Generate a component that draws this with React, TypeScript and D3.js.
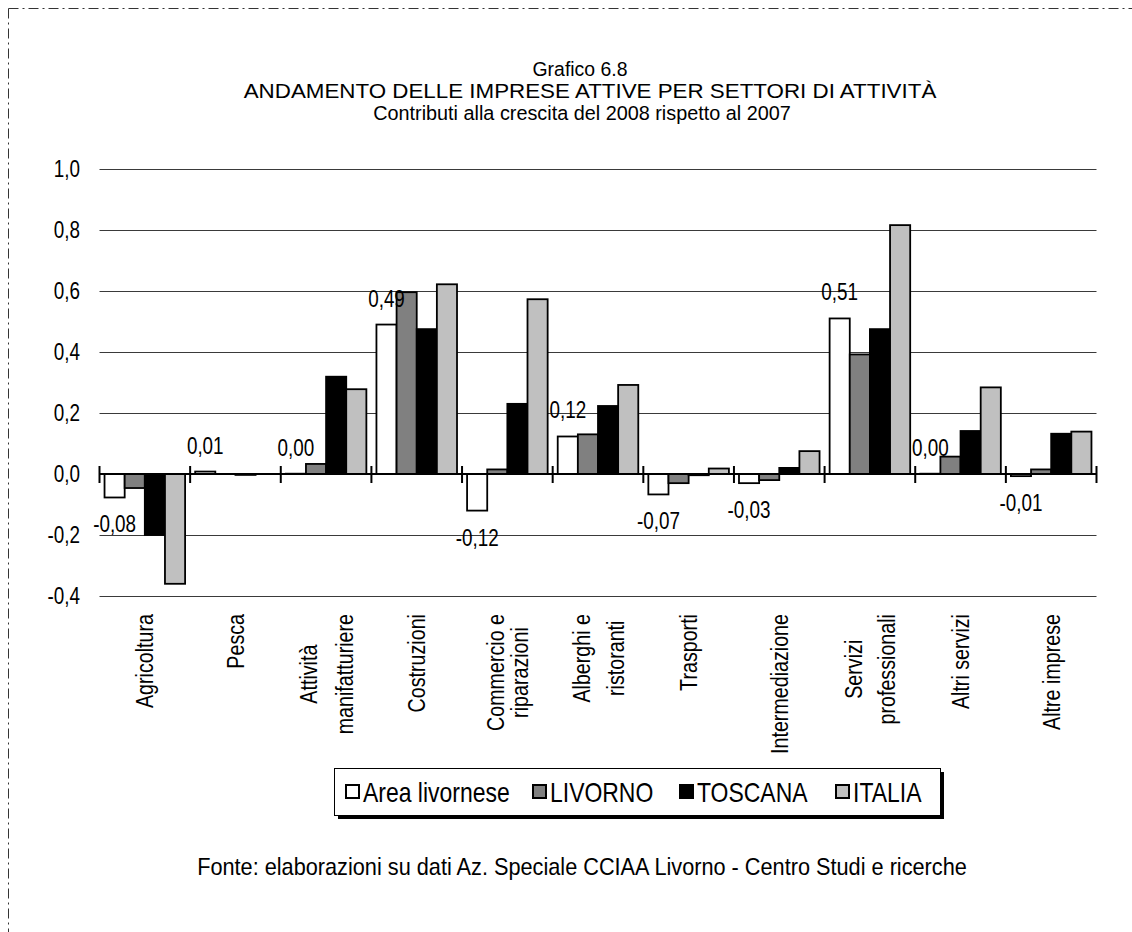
import React, { useEffect, useRef } from 'react';
import * as d3 from 'd3';

// categories (line breaks as in the original labels)
const categories = [
  'Agricoltura',
  'Pesca',
  'Attività manifatturiere',
  'Costruzioni',
  'Commercio e riparazioni',
  'Alberghi e ristoranti',
  'Trasporti',
  'Intermediazione',
  'Servizi professionali',
  'Altri servizi',
  'Altre imprese',
];
const categoryLines = [
  ['Agricoltura'],
  ['Pesca'],
  ['Attività', 'manifatturiere'],
  ['Costruzioni'],
  ['Commercio e', 'riparazioni'],
  ['Alberghi e', 'ristoranti'],
  ['Trasporti'],
  ['Intermediazione'],
  ['Servizi', 'professionali'],
  ['Altri servizi'],
  ['Altre imprese'],
];

const seriesNames = ['Area livornese', 'LIVORNO', 'TOSCANA', 'ITALIA'];
const seriesColors = ['#ffffff', '#808080', '#000000', '#c0c0c0'];

const areaLivornese = [-0.077, 0.008, 0.001, 0.49, -0.12, 0.123, -0.067, -0.03, 0.51, 0.001, -0.007];
const livorno = [-0.046, 0.0, 0.033, 0.596, 0.015, 0.13, -0.03, -0.02, 0.392, 0.057, 0.015];
const toscana = [-0.2, -0.003, 0.319, 0.475, 0.23, 0.223, -0.004, 0.02, 0.475, 0.141, 0.132];
const italia = [-0.36, 0.0, 0.278, 0.622, 0.573, 0.292, 0.018, 0.075, 0.816, 0.284, 0.139];

const yTicks = [-0.4, -0.2, 0.0, 0.2, 0.4, 0.6, 0.8, 1.0];

const titleLines = [
  'Grafico 6.8',
  'ANDAMENTO DELLE IMPRESE ATTIVE PER SETTORI DI ATTIVITÀ',
  'Contributi alla crescita del 2008 rispetto al 2007',
];
const sourceNote = 'Fonte: elaborazioni su dati Az. Speciale CCIAA Livorno - Centro Studi e ricerche';

// Arial Narrow look-alike: Liberation Sans squeezed horizontally
const FONT = "'Liberation Sans', Arial, sans-serif";
const NARROW = 0.82;

const App = () => {
  const svgRef = useRef<SVGSVGElement | null>(null);

  useEffect(() => {
    const width = 1132;
    const height = 932;
    const svg = d3.select(svgRef.current);
    svg.selectAll('*').remove();
    svg.attr('font-family', FONT);

    // text helper: a group at (x,y), squeezed horizontally
    const addText = (parent, x, y, txt, size, anchor = 'start', sx = NARROW, fitWidth = 0) => {
      const g = parent.append('g').attr('transform', `translate(${x},${y})`);
      const t = g.append('text').attr('font-size', size).attr('text-anchor', anchor).attr('fill', '#000').text(txt);
      let k = sx;
      if (fitWidth) {
        const len = (t.node() as SVGTextElement).getComputedTextLength();
        k = fitWidth / len;
      }
      t.attr('transform', `scale(${k},1)`);
      return t;
    };

    const left = 99.5;
    const right = 1096.5;
    const top = 169;
    const bottom = 596;

    const series = [areaLivornese, livorno, toscana, italia];

    const x0 = d3.scaleBand<string>().domain(categories).range([left, right]).padding(0);
    const x1 = d3
      .scaleBand<string>()
      .domain(seriesNames)
      .range([0, x0.bandwidth()])
      .paddingInner(0)
      .paddingOuter(0.25);
    const y = d3.scaleLinear().domain([-0.4, 1.0]).range([bottom, top]);

    // dash-dot frame (only top and left edges are in view)
    const frame = svg.append('g').attr('stroke', '#333').attr('stroke-width', 1).attr('stroke-dasharray', '10,4,2,4');
    frame.append('line').attr('x1', 8.5).attr('x2', width).attr('y1', 8.5).attr('y2', 8.5);
    frame.append('line').attr('x1', 8.5).attr('x2', 8.5).attr('y1', 8.5).attr('y2', height);

    // title
    addText(svg, 580, 75.5, titleLines[0], 19.5, 'middle', NARROW, 95);
    addText(svg, 590, 97.5, titleLines[1], 19.5, 'middle', NARROW, 693);
    addText(svg, 582, 119.5, titleLines[2], 19.5, 'middle', NARROW, 418);

    // gridlines
    svg
      .append('g')
      .selectAll('line')
      .data(yTicks.filter(d => d !== 0))
      .enter()
      .append('line')
      .attr('x1', left)
      .attr('x2', right)
      .attr('y1', d => Math.round(y(d)) + 0.5)
      .attr('y2', d => Math.round(y(d)) + 0.5)
      .attr('stroke', '#3a3a3a')
      .attr('stroke-width', 1);

    // y tick labels
    const yLab = svg.append('g');
    yTicks.forEach(d => {
      addText(yLab, 80, y(d) + 8, d.toFixed(1).replace('.', ','), 23, 'end');
    });

    // bars
    const barG = svg.append('g');
    series.forEach((vals, si) => {
      barG
        .append('g')
        .selectAll('rect')
        .data(vals)
        .enter()
        .append('rect')
        .attr('x', (d, i) => (x0(categories[i]) as number) + (x1(seriesNames[si]) as number))
        .attr('y', d => y(Math.max(0, d)))
        .attr('width', x1.bandwidth())
        .attr('height', d => Math.abs(y(d) - y(0)))
        .attr('fill', seriesColors[si])
        .attr('stroke', '#000')
        .attr('stroke-width', 1.8);
    });

    // zero axis with category ticks
    const y0 = y(0);
    svg
      .append('line')
      .attr('x1', left)
      .attr('x2', right)
      .attr('y1', y0)
      .attr('y2', y0)
      .attr('stroke', '#000')
      .attr('stroke-width', 2);
    const tickPos = categories.map(c => x0(c) as number).concat([right]);
    svg
      .append('g')
      .selectAll('line')
      .data(tickPos)
      .enter()
      .append('line')
      .attr('x1', d => d)
      .attr('x2', d => d)
      .attr('y1', y0 - 8)
      .attr('y2', y0 + 9)
      .attr('stroke', '#000')
      .attr('stroke-width', 2);

    // data labels for Area livornese
    const dl = svg.append('g');
    areaLivornese.forEach((d, i) => {
      const cx = (x0(categories[i]) as number) + (x1(seriesNames[0]) as number) + x1.bandwidth() / 2;
      const cy = d >= 0 ? y(d) - 26 : y(d) + 27;
      addText(dl, cx, cy + 8, d.toFixed(2).replace('.', ','), 23, 'middle');
    });

    // category labels, rotated
    const catG = svg.append('g');
    const gaps = [0, 0, 36, 0, 24, 34, 0, 0, 33, 0, 0];
    categoryLines.forEach((lines, i) => {
      const cx = (x0(categories[i]) as number) + x0.bandwidth() / 2;
      const g = catG.append('g').attr('transform', `translate(${cx},614) rotate(-90)`);
      const gap = gaps[i];
      const texts = lines.map((t, li) =>
        g
          .append('text')
          .attr('font-size', 24)
          .attr('y', (li - (lines.length - 1) / 2) * gap)
          .attr('dy', '0.36em')
          .text(t)
      );
      const lens = texts.map(t => (t.node() as SVGTextElement).getComputedTextLength());
      const maxLen = d3.max(lens) || 0;
      texts.forEach(t =>
        t.attr('text-anchor', 'middle').attr('x', -maxLen / 2).attr('transform', `scale(${NARROW},1)`)
      );
    });

    // legend
    const lg = svg.append('g');
    lg.append('rect').attr('x', 338).attr('y', 772).attr('width', 606).attr('height', 47).attr('fill', '#000');
    lg.append('rect')
      .attr('x', 334.5)
      .attr('y', 768.5)
      .attr('width', 606)
      .attr('height', 47)
      .attr('fill', '#fff')
      .attr('stroke', '#000')
      .attr('stroke-width', 1);
    const squareX = [346, 533, 680, 836];
    seriesNames.forEach((name, i) => {
      lg.append('rect')
        .attr('x', squareX[i])
        .attr('y', 785)
        .attr('width', 13)
        .attr('height', 13)
        .attr('fill', seriesColors[i])
        .attr('stroke', '#000')
        .attr('stroke-width', 2);
      addText(lg, squareX[i] + 17, 802, name, 28, 'start');
    });

    // source
    addText(svg, 582, 875, sourceNote, 24, 'middle', NARROW, 770);
  }, []);

  return (
    <div style={{ position: 'absolute', left: 0, top: 0, width: 1132, height: 932, background: '#fff' }}>
      <svg ref={svgRef} width={1132} height={932} style={{ display: 'block' }}></svg>
    </div>
  );
};

export default App;
